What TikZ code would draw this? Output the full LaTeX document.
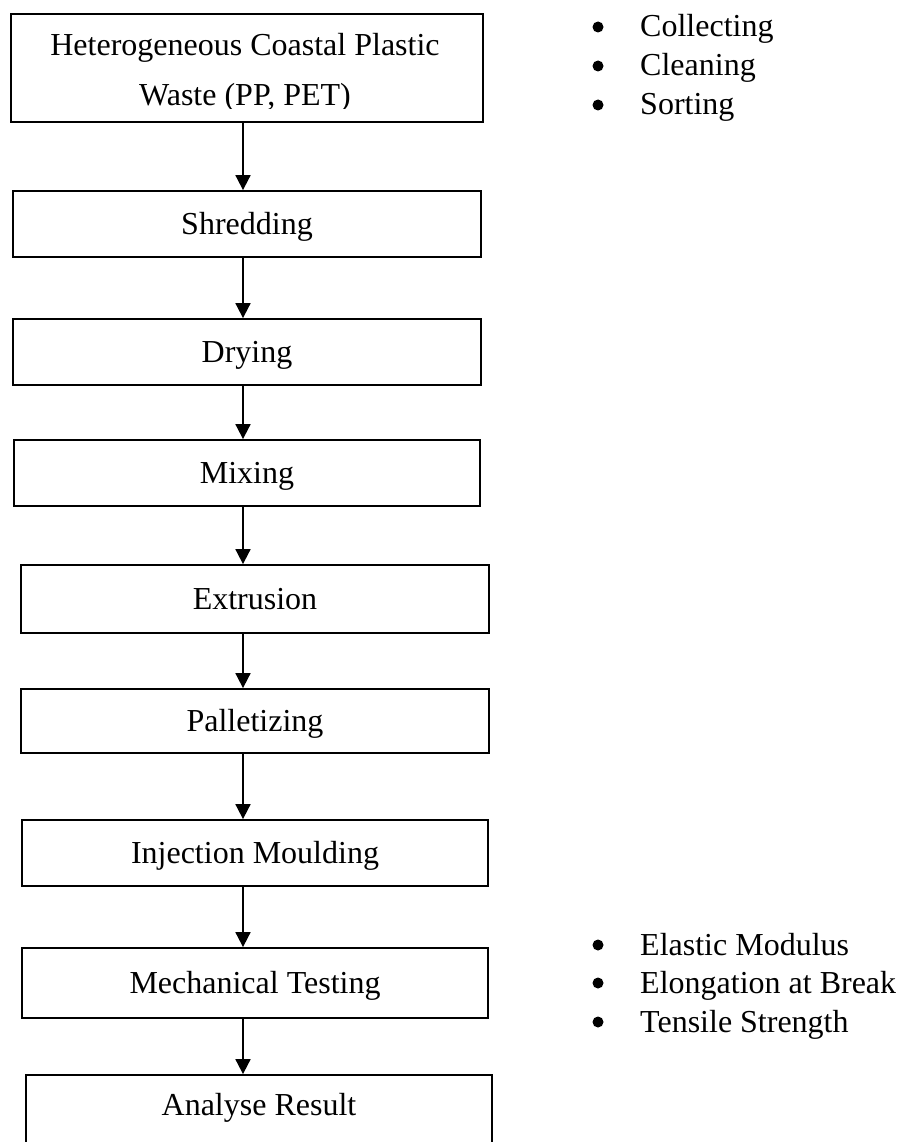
\documentclass[tikz,border=0pt]{standalone}
\usepackage{fontspec}
\setmainfont{Liberation Serif}
\usetikzlibrary{arrows.meta}
\begin{document}
\begin{tikzpicture}[x=1pt,y=-1pt,
  box/.style={draw, line width=1.8pt, inner sep=0pt, font=\fontsize{32}{38}\selectfont, text height=21pt, text depth=0pt},
  lbl/.style={inner sep=0pt, anchor=base, font=\fontsize{32}{38}\selectfont},
  itm/.style={inner sep=0pt, anchor=base west, font=\fontsize{32}{38}\selectfont},
  bul/.style={circle, fill=black, inner sep=0pt, minimum size=11pt},
  arr/.style={line width=1.8pt, -{Triangle[width=15pt,length=15pt]}}]
\useasboundingbox (0,0) rectangle (901,1142);
\clip (0,0) rectangle (901,1142);
\fill[white] (0,0) rectangle (901,1142);
% boxes
\node[box, minimum width=472pt, minimum height=108pt] (b1) at (247,68) {};
\node[box, minimum width=468pt, minimum height=66pt] (b2) at (247,224) {Shredding};
\node[box, minimum width=468pt, minimum height=66pt] (b3) at (247,352) {Drying};
\node[box, minimum width=466pt, minimum height=66pt] (b4) at (247,473) {Mixing};
\node[box, minimum width=468pt, minimum height=68pt] (b5) at (255,599) {Extrusion};
\node[box, minimum width=468pt, minimum height=64pt] (b6) at (255,721) {Palletizing};
\node[box, minimum width=466pt, minimum height=66pt] (b7) at (255,853) {Injection Moulding};
\node[box, minimum width=466pt, minimum height=70pt] (b8) at (255,983) {Mechanical Testing};
\node[box, minimum width=466pt, minimum height=125pt] (b9) at (259,1137.5) {};
\node[lbl] (t9) at (259,1115) {Analyse Result};
% first box text, clipped at the bottom
\begin{scope}
  \clip (11,14) rectangle (483,109);
  \node[lbl] (t1a) at (245,56) {Heterogeneous Coastal Plastic};
  \node[lbl] (t1b) at (245,106) {Waste (PP, PET)};
\end{scope}
% arrows
\coordinate (ax) at (243,0);
\draw[arr] (b1.south -| ax) -- (b2.north -| ax);
\draw[arr] (b2.south -| ax) -- (b3.north -| ax);
\draw[arr] (b3.south -| ax) -- (b4.north -| ax);
\draw[arr] (b4.south -| ax) -- (b5.north -| ax);
\draw[arr] (b5.south -| ax) -- (b6.north -| ax);
\draw[arr] (b6.south -| ax) -- (b7.north -| ax);
\draw[arr] (b7.south -| ax) -- (b8.north -| ax);
\draw[arr] (b8.south -| ax) -- (b9.north -| ax);
% bullet lists
\node[bul] (p1) at (598,27) {};
\node[itm] (q1) at (640,37) {Collecting};
\node[bul] (p2) at (598,66) {};
\node[itm] (q2) at (640,76) {Cleaning};
\node[bul] (p3) at (598,105) {};
\node[itm] (q3) at (640,115) {Sorting};
\node[bul] (p4) at (598,945) {};
\node[itm] (q4) at (640,955) {Elastic Modulus};
\node[bul] (p5) at (598,983) {};
\node[itm] (q5) at (640,993) {Elongation at Break};
\node[bul] (p6) at (598,1022) {};
\node[itm] (q6) at (640,1032) {Tensile Strength};
\end{tikzpicture}
\end{document}
